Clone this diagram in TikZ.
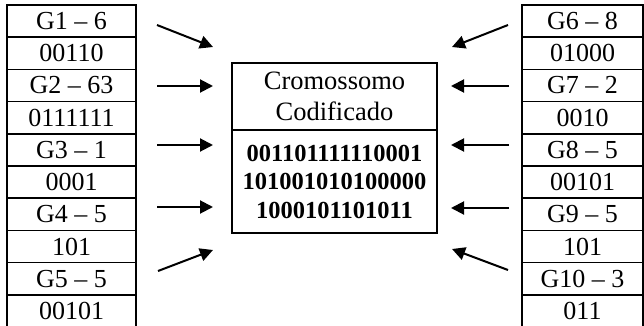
\documentclass[tikz,border=0pt]{standalone}
\usepackage{fontspec}
\setmainfont{Liberation Serif}
\usetikzlibrary{arrows.meta}
\begin{document}
\begin{tikzpicture}[x=1pt,y=-1pt,
  cell/.style={draw,line width=1.6pt,rectangle,inner sep=0pt,minimum height=32.2pt,
    font=\fontsize{26}{30}\selectfont},
  lcell/.style={cell,minimum width=129pt},
  rcell/.style={cell,minimum width=121pt},
  boxpart/.style={draw,line width=1.6pt,rectangle,inner sep=0pt,minimum width=205pt,align=center},
  arr/.style={line width=2pt,-{Triangle[length=13pt,width=13pt]}}]
\useasboundingbox (0,0) rectangle (644,326);
% left table
\foreach \i/\t in {1/G1 -- 6,2/00110,3/G2 -- 63,4/0111111,5/G3 -- 1,6/0001,7/G4 -- 5,8/101,9/G5 -- 5,10/00101}{
  \node[lcell] (L\i) at (71.5,{5+32.2*(\i-0.5)}) {\t};
}
% right table
\foreach \i/\t in {1/G6 -- 8,2/01000,3/G7 -- 2,4/0010,5/G8 -- 5,6/00101,7/G9 -- 5,8/101,9/G10 -- 3,10/011}{
  \node[rcell] (R\i) at (582.5,{5+32.2*(\i-0.5)}) {\t};
}
% central box
\node[boxpart,minimum height=67pt,font=\fontsize{26.5}{31}\selectfont] (title) at (334.5,96.5) {Cromossomo\\Codificado};
\node[boxpart,minimum height=103pt,font=\fontsize{24.5}{28.5}\selectfont\bfseries] (code) at (334.5,181.5) {001101111110001\\101001010100000\\1000101101011};
% arrow ends
\coordinate (a1s) at (157,25);  \coordinate (a1e) at (213,47);
\coordinate (a2s) at (157,86);  \coordinate (a2e) at (213,86);
\coordinate (a3s) at (157,145); \coordinate (a3e) at (213,145);
\coordinate (a4s) at (157,207); \coordinate (a4e) at (213,207);
\coordinate (a5s) at (158,271); \coordinate (a5e) at (213,250);
\coordinate (b1s) at (508,25);  \coordinate (b1e) at (452,47);
\coordinate (b2s) at (509,86);  \coordinate (b2e) at (451,86);
\coordinate (b3s) at (509,145); \coordinate (b3e) at (451,145);
\coordinate (b4s) at (509,208); \coordinate (b4e) at (451,208);
\coordinate (b5s) at (508,270); \coordinate (b5e) at (452,249);
\foreach \k in {1,...,5}{
  \draw[arr] (a\k s) -- (a\k e);
  \draw[arr] (b\k s) -- (b\k e);
}
\end{tikzpicture}
\end{document}
